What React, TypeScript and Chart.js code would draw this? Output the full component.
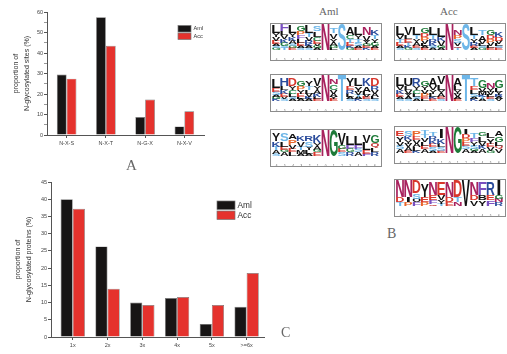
import React, { useEffect, useRef } from "react";
import { Chart, registerables } from "chart.js";

Chart.register(...registerables);

const seriesNames = ["Aml", "Acc"];
const siteCategories = ["N-X-S", "N-X-T", "N-G-X", "N-X-V"];
const siteAml = [29.5, 57.5, 8.8, 4.2];
const siteAcc = [27.5, 43.5, 17.3, 11.6];

const proteinCategories = ["1x", "2x", "3x", "4x", "5x", ">=6x"];
const proteinAml = [40, 26.3, 10, 11.3, 3.8, 8.8];
const proteinAcc = [37.2, 14, 9.3, 11.6, 9.3, 18.6];

const logoPositions = ["-6", "-5", "-4", "-3", "-2", "-1", "0", "1", "2", "3", "4", "5", "6"];

// Sequence logo columns: letter + height, listed top to bottom.
const logoAmlNXS = ["L4Y2V2E2A1S1G1", "F4L2V2K2G2S1T1", "L4Y2K2A2S1G1E1", "G3P2F2L2E2A1S1", "L4T2V2R2K1A1S1", "S3L3C2E2V1G1A1", "N14", "T3V3Y2A2G1L1", "S14", "A4C2T2E2K1G1", "L4Y2T2S2A1E1", "N4V3Y2G1E1K1", "K3T2Y2G2A1E1"];
const logoAccNXS = ["L5V2T2E2A1S1", "V4L2E2T2K1G1", "L4T2Y2A2E1S1", "G3D2P2V2L1A1E1", "L4T2R2K2S1A1", "L5K2V3G1A1", "N14", "N3P2S2V2Q1T1", "S14", "L4T2Y2R2E1A1", "T3A3V2L1S1G1", "G3D2P2V2L1E1", "K3D2V2L1S1E1"];
const logoAmlNXT = ["L5E2S2A1G1K1", "H4L2K2E2V1S1", "D4Y2C2L2S1A1", "G3P2Y2E2L1A1", "Y3T2L2V2K1A1", "V4Y2A2K2L1E1", "N14", "N3C3V2A2Y1E1", "T14", "Y4E2R2L2A1S1", "L4Y3V2T1A1K1", "K4A3L2V1E1S1", "D4R2V2A2L1S1"];
const logoAccNXT = ["L5V2K2E2A1S1", "U4L2V2Y2A1S1", "R4Y2C2L2S1A1", "G3Y2V2P2E1L1", "A4V2Y2L2K1E1", "V4L3Y2A2E1S1", "N14", "A4L2Y2V2A1E1", "T14", "T4E2L2S2A1K1", "G4V2M2K1T1A1", "N3Y2V2L1E1S1", "G4L2Y2R1A1V1"];
const logoAmlNGX = ["Y4K3T2A2S1", "S4L3E2G1A2", "A3P3V2E2L2", "K3V3T2M2A1", "R3S3Y2L2A1", "K4Y2A2G1E2", "N14", "G14", "V6G2E2S2", "L5F2G2R2", "L5F2S2A2", "V4L4E2F1", "G4Q3L2R2"];
const logoAccNGX = ["E3Y3V2S2A2", "S3K2Y2V2A2E1", "P3E2V2A2L2K1", "T2T2V2L2E2A2", "T2R2K2E2S2A1", "I5K3L2S2E1", "N14", "G14", "I3D2P2E2S2A2", "T3F2Y2S2G1A1", "G2L3V2K2A2", "L3Y3E2V2G1", "A3G3L2Q2V2"];
const logoAccNXV = ["N9D3T2", "N9I3P2", "D7S3O2F2", "Y7E3P2", "N7E3F2Q1", "E7V3Y2T1", "N8D3E2", "D9T3N2", "V14", "N7D3V3", "F7B3Y3", "R7E3F3", "I8G2N2R2"];

const letterColors: Record<string, string> = {
  N: "#a8225e", D: "#d8362c", E: "#d8362c", S: "#6db6e8", T: "#6db6e8", G: "#1d7a38",
  K: "#2a4b9b", R: "#2a4b9b", H: "#2a4b9b", F: "#7a4fc0", P: "#e8652a", Q: "#c43a3a", C: "#2a8a50",
};

const parseColumn = (c: string) =>
  [...c.matchAll(/([A-Z])(\d+)/g)].map((m) => ({ letter: m[1], height: Number(m[2]) })).reverse();

const letterPlugin = {
  id: "logoLetters",
  afterDatasetsDraw(chart: any) {
    const ctx = chart.ctx;
    chart.data.datasets.forEach((ds: any, di: number) => {
      chart.getDatasetMeta(di).data.forEach((el: any, i: number) => {
        const letter = ds.letters[i];
        if (!letter) return;
        const h = Math.abs(el.base - el.y);
        const w = letter === "I" ? el.width * 0.4 : el.width;
        ctx.save();
        ctx.font = "bold 40px 'Liberation Sans'";
        ctx.textBaseline = "alphabetic";
        ctx.textAlign = "left";
        const m = ctx.measureText(letter);
        const mw = m.actualBoundingBoxLeft + m.actualBoundingBoxRight;
        const mh = m.actualBoundingBoxAscent + m.actualBoundingBoxDescent;
        ctx.translate(el.x - w / 2, el.base);
        ctx.scale(w / mw, h / mh);
        ctx.fillStyle = letterColors[letter] || "#111";
        ctx.fillText(letter, m.actualBoundingBoxLeft, -m.actualBoundingBoxDescent);
        ctx.restore();
      });
    });
  },
};

const legendPlugin = {
  id: "panelLegend",
  afterDraw(chart: any) {
    const o = chart.options.plugins.panelLegend;
    const ctx = chart.ctx;
    chart.data.datasets.forEach((ds: any, i: number) => {
      const y = o.y + i * o.step;
      ctx.save();
      ctx.fillStyle = ds.backgroundColor;
      ctx.strokeStyle = "#777";
      ctx.lineWidth = 0.7;
      ctx.fillRect(o.x, y, o.w, o.h);
      ctx.strokeRect(o.x, y, o.w, o.h);
      ctx.fillStyle = "#333";
      ctx.font = `${o.size}px 'Liberation Sans'`;
      ctx.textBaseline = "middle";
      ctx.fillText(ds.label, o.x + o.w + 2.5, y + o.h / 2);
      ctx.restore();
    });
  },
};

const barStyle = (i: number) => ({
  label: seriesNames[i],
  backgroundColor: i === 0 ? "#171515" : "#e5322d",
  borderColor: "#7a7a7a",
  borderWidth: 0.7,
  categoryPercentage: 1,
  barPercentage: 1,
});

function useChart(make: (c: HTMLCanvasElement) => Chart) {
  const ref = useRef<HTMLCanvasElement>(null);
  useEffect(() => {
    const chart = make(ref.current!);
    return () => chart.destroy();
  }, []);
  return ref;
}

const abs = (left: number, top: number): React.CSSProperties => ({ position: "absolute", left, top });

function SitesChart() {
  const ref = useChart(
    (c) =>
      new Chart(c, {
        type: "bar",
        data: {
          labels: siteCategories,
          datasets: [
            { ...barStyle(0), data: siteAml, categoryPercentage: 0.5 },
            { ...barStyle(1), data: siteAcc, categoryPercentage: 0.5 },
          ],
        },
        options: {
          responsive: false,
          animation: false,
          layout: { padding: { top: 12, right: 46, left: 0, bottom: 0 } },
          plugins: {
            legend: { display: false },
            tooltip: { enabled: false },
            panelLegend: { x: 178, y: 25.5, w: 13, h: 6.5, step: 7.5, size: 5.6 },
          },
          scales: {
            x: {
              grid: { offset: false, drawOnChartArea: false, tickLength: 3, color: "#555" },
              border: { color: "#555" },
              ticks: { color: "#444", font: { size: 5.5, family: "Liberation Sans" }, padding: 2, maxRotation: 0 },
              afterFit: (s: any) => { s.height = 40; },
            },
            y: {
              min: 0,
              max: 60,
              grid: { drawOnChartArea: false, tickLength: 3, color: (x: any) => (x.tick.value % 10 === 0 ? "#555" : "#999") },
              border: { color: "#555" },
              ticks: {
                stepSize: 5,
                autoSkip: false,
                color: "#444",
                font: { size: 5.5, family: "Liberation Sans" },
                padding: 1,
                callback: (v: any) => (v % 10 === 0 ? v : ""),
              },
              title: {
                display: true,
                text: ["proportion of", "N-glycosylated sites (%)"],
                color: "#333",
                font: { size: 7, family: "Liberation Sans", lineHeight: 1.6 },
                padding: { top: 10.5, bottom: 0 },
              },
              afterFit: (s: any) => { s.width = 47; },
            },
          },
        },
        plugins: [legendPlugin],
      } as any)
  );
  return <canvas ref={ref} width={250} height={175} style={abs(0, 0)} />;
}

function ProteinsChart() {
  const ref = useChart(
    (c) =>
      new Chart(c, {
        type: "bar",
        data: {
          labels: proteinCategories.map((_, i) => i),
          datasets: [
            { ...barStyle(0), data: proteinAml, categoryPercentage: 0.7 },
            { ...barStyle(1), data: proteinAcc, categoryPercentage: 0.7 },
          ],
        },
        options: {
          responsive: false,
          animation: false,
          layout: { padding: { top: 12, right: 36, left: 0, bottom: 0 } },
          plugins: {
            legend: { display: false },
            tooltip: { enabled: false },
            panelLegend: { x: 217, y: 31, w: 18, h: 8.5, step: 10, size: 8.3 },
          },
          scales: {
            x: {
              type: "linear",
              offset: false,
              min: -0.626,
              max: 5.5,
              grid: { offset: false, drawOnChartArea: false, tickLength: 3, color: "#555" },
              border: { color: "#555" },
              afterBuildTicks: (s: any) => {
                s.ticks = proteinCategories.map((_, i) => ({ value: i }));
              },
              ticks: {
                stepSize: 1,
                includeBounds: false,
                color: "#444",
                font: { size: 5.5, family: "Liberation Sans" },
                padding: 2,
                maxRotation: 0,
                callback: (v: any) => proteinCategories[v] ?? "",
              },
              afterFit: (s: any) => { s.height = 17; },
            },
            y: {
              min: 0,
              max: 45,
              grid: { drawOnChartArea: false, tickLength: 3, color: "#555" },
              border: { color: "#555" },
              ticks: { stepSize: 5, color: "#444", font: { size: 5.5, family: "Liberation Sans" }, padding: 1 },
              title: {
                display: true,
                text: ["proportion of", "N-glycosylated proteins (%)"],
                color: "#333",
                font: { size: 7, family: "Liberation Sans", lineHeight: 1.6 },
                padding: { top: 12, bottom: 0 },
              },
              afterFit: (s: any) => { s.width = 51; },
            },
          },
        },
        plugins: [legendPlugin],
      } as any)
  );
  return <canvas ref={ref} width={300} height={184} style={abs(0, 170)} />;
}

function Logo({ columns, left, top, height = 38 }: { columns: string[]; left: number; top: number; height?: number }) {
  const width = 111.5;
  const ref = useChart((c) => {
    const parsed = columns.map(parseColumn);
    const depth = Math.max(...parsed.map((p) => p.length));
    const datasets = Array.from({ length: depth }, (_, d) => ({
      data: parsed.map((p) => (p[d] ? p[d].height : 0)),
      letters: parsed.map((p) => (p[d] ? p[d].letter : "")),
      backgroundColor: "rgba(0,0,0,0)",
      categoryPercentage: 1,
      barPercentage: 1,
      stack: "logo",
    }));
    return new Chart(c, {
      type: "bar",
      data: { labels: logoPositions, datasets },
      options: {
        responsive: false,
        animation: false,
        layout: { padding: { top: 0, left: 1, right: 1, bottom: 0 } },
        plugins: { legend: { display: false }, tooltip: { enabled: false } },
        scales: {
          x: {
            stacked: true,
            grid: { display: false },
            border: { display: false },
            ticks: { color: "#555", font: { size: 3, family: "Liberation Sans" }, padding: 0, autoSkip: false, maxRotation: 0 },
            afterFit: (s: any) => { s.height = 10; },
          },
          y: { display: false, stacked: true, min: 0, max: 14 },
        },
      },
      plugins: [letterPlugin],
    } as any);
  });
  return (
    <div
      style={{
        ...abs(left, top),
        width,
        height,
        boxSizing: "border-box",
        border: "1px solid #8c8c8c",
        borderBottomWidth: 1.5,
      }}
    >
      <canvas ref={ref} width={width - 2} height={height - 2} style={{ display: "block" }} />
    </div>
  );
}

const serif = (size: number): React.CSSProperties => ({
  fontFamily: "'Liberation Serif', serif",
  fontSize: size,
  color: "#666",
  lineHeight: 1,
});

export default function App() {
  return (
    <div style={{ position: "absolute", left: 0, top: 0, width: 507, height: 354, overflow: "hidden", background: "#fff", filter: "blur(0.35px)" }}>
      <SitesChart />
      <ProteinsChart />
      <Logo columns={logoAmlNXS} left={270} top={22.5} />
      <Logo columns={logoAccNXS} left={394} top={22.5} />
      <Logo columns={logoAmlNXT} left={270} top={74} />
      <Logo columns={logoAccNXT} left={394} top={74} />
      <Logo columns={logoAmlNGX} left={270} top={129} />
      <Logo columns={logoAccNGX} left={394} top={126} />
      <Logo columns={logoAccNXV} left={394} top={179} />
      <div style={{ ...abs(319, 6), ...serif(11) }}>Aml</div>
      <div style={{ ...abs(440, 6), ...serif(11) }}>Acc</div>
      <div style={{ ...abs(126, 158), ...serif(15) }}>A</div>
      <div style={{ ...abs(387, 227), ...serif(14) }}>B</div>
      <div style={{ ...abs(281, 326), ...serif(14) }}>C</div>
    </div>
  );
}
